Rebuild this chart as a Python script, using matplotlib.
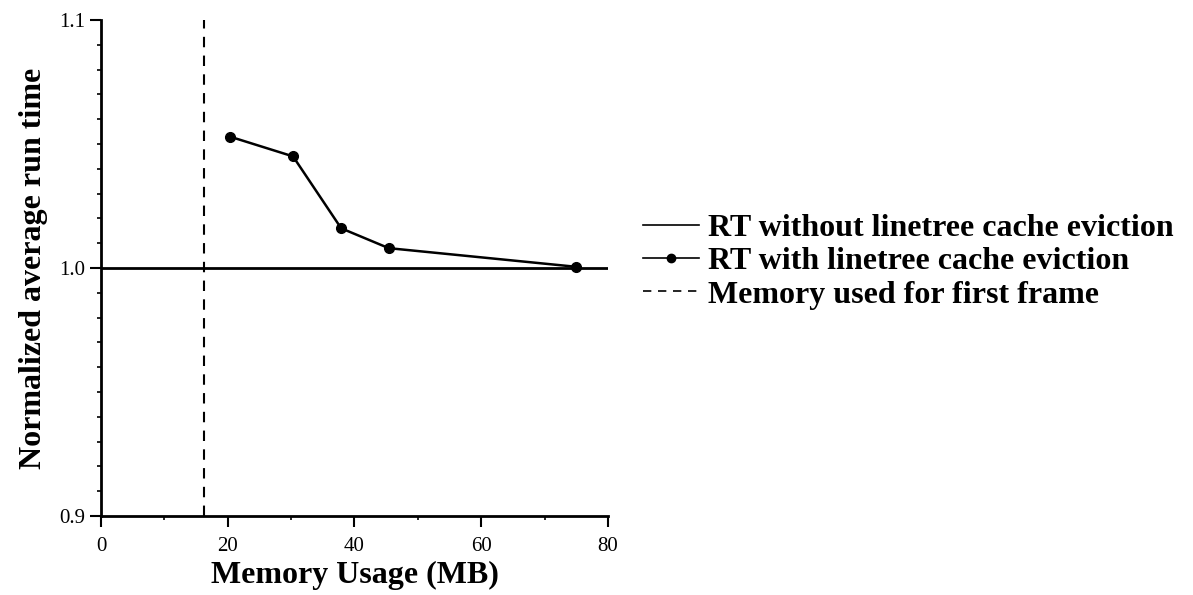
import matplotlib
matplotlib.use("Agg")
import matplotlib.pyplot as plt
import numpy as np

plt.rcParams['font.family'] = ['Liberation Serif', 'DejaVu Serif']

# data
mem_mb = [20.3, 30.3, 37.9, 45.4, 74.9]
run_time = [1.053, 1.045, 1.016, 1.008, 1.0005]
baseline = 1.0
first_frame_mem = 16.3

fig = plt.figure(figsize=(11.93, 5.95), dpi=100)
ax = fig.add_axes([0.0847, 0.1328, 0.4249, 0.8336])

ax.axhline(baseline, color="black", linewidth=2, label="RT without linetree cache eviction")
ax.plot(mem_mb, run_time, color="black", linewidth=1.8, marker="o", markersize=7,
        label="RT with linetree cache eviction")
ax.axvline(first_frame_mem, color="black", linewidth=1.5, linestyle=(0, (5, 4)),
           label="Memory used for first frame")

ax.set_xlim(0, 80)
ax.set_ylim(0.9, 1.1)
ax.set_xticks([0, 20, 40, 60, 80])
ax.set_xticks([10, 30, 50, 70], minor=True)
ax.set_yticks([0.9, 1.0, 1.1])
ax.set_yticks(np.arange(0.91, 1.1, 0.01), minor=True)
ax.spines['top'].set_visible(False)
ax.spines['right'].set_visible(False)
for s in ['left', 'bottom']:
    ax.spines[s].set_linewidth(2)
ax.tick_params(axis='both', which='major', direction='out', length=8, width=1.5, labelsize=15)
ax.tick_params(axis='both', which='minor', direction='out', length=3, width=1.2)
ax.tick_params(axis='x', which='major', pad=7)

ax.set_xlabel("Memory Usage (MB)", fontsize=23, fontweight="bold", labelpad=4)
ax.set_ylabel("Normalized average run time", fontsize=23, fontweight="bold", labelpad=8)

leg = fig.legend(loc="upper left", bbox_to_anchor=(0.528, 0.662), frameon=False,
                 prop={'size': 23, 'weight': 'bold'}, numpoints=1, handlelength=1.75,
                 handletextpad=0.3, labelspacing=0.12, borderaxespad=0)
for h in leg.legend_handles:
    h.set_linewidth(1.2)
    h.set_markersize(6)

plt.savefig("out.png", dpi=100)
